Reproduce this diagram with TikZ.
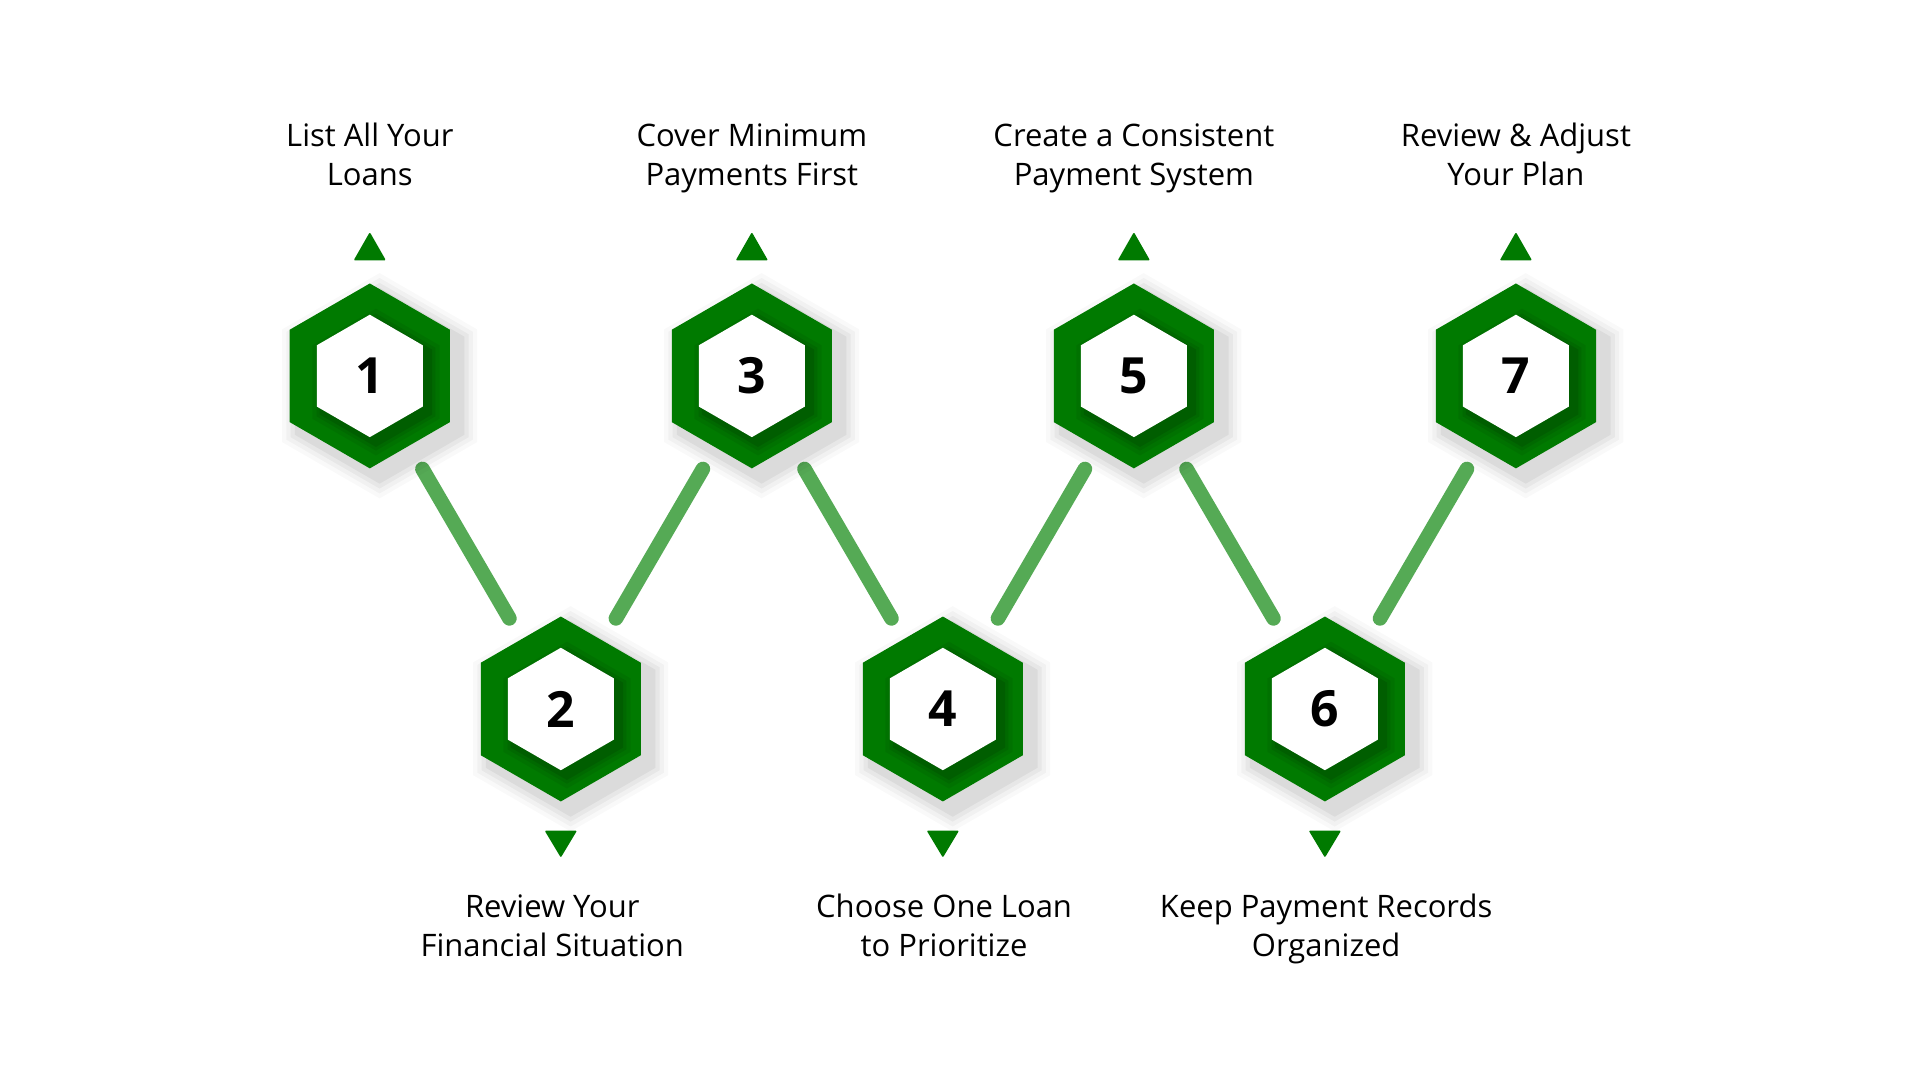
\documentclass[tikz,border=0pt]{standalone}
\usepackage{fontspec}
\setmainfont{Open Sans}
\usetikzlibrary{calc}
\definecolor{hexg}{HTML}{007A00}
\definecolor{lineg}{HTML}{55AA55}
\tikzset{
  lbl/.style={align=center,font=\fontsize{36}{45}\selectfont},
  num/.style={font=\fontsize{58}{60}\selectfont\bfseries},
  conn/.style={draw=lineg,line width=17pt,line cap=round},
  tri/.style={fill=hexg,draw=hexg,line width=2pt,line join=round}
}
\newcommand{\hexpath}[3]{($(#1,#2)+(90:#3)$) -- ($(#1,#2)+(150:#3)$) -- ($(#1,#2)+(210:#3)$) -- ($(#1,#2)+(270:#3)$) -- ($(#1,#2)+(330:#3)$) -- ($(#1,#2)+(30:#3)$) -- cycle}
\newcommand{\hexag}[3]{%
  \foreach \r/\o in {92/0.025,88/0.03,84/0.04,80/0.05} {\fill[black,opacity=\o] \hexpath{#1+8}{#2+8}{\r};}
  \fill[hexg] \hexpath{#1}{#2}{75.5};
  \foreach \r/\o in {60/0.06,56/0.08,53/0.1} {\fill[black,opacity=\o] \hexpath{#1+5}{#2+5}{\r};}
  \fill[white] \hexpath{#1}{#2}{50};
  \node[num] (h#3) at (#1,#2) {#3};}
\begin{document}
\begin{tikzpicture}[x=0.05cm,y=-0.05cm]
\useasboundingbox (0,0) rectangle (1568,882);
\fill[white] (0,0) rectangle (1568,882);
\coordinate (a1) at (345,383); \coordinate (b1) at (416,505);
\coordinate (a2) at (503,505); \coordinate (b2) at (574,383);
\coordinate (a3) at (657,383); \coordinate (b3) at (728,505);
\coordinate (a4) at (815,505); \coordinate (b4) at (886,383);
\coordinate (a5) at (969,383); \coordinate (b5) at (1040,505);
\coordinate (a6) at (1127,505); \coordinate (b6) at (1198,383);
\foreach \i in {1,...,6} {\draw[conn] (a\i) -- (b\i);}
\hexag{302}{307}{1}
\hexag{614}{307}{3}
\hexag{926}{307}{5}
\hexag{1238}{307}{7}
\hexag{458}{579}{2}
\hexag{770}{579}{4}
\hexag{1082}{579}{6}
\foreach \x in {302,614,926,1238} {\filldraw[tri] (\x,191) -- (\x-12,212) -- (\x+12,212) -- cycle;}
\foreach \x in {458,770,1082} {\filldraw[tri] (\x,699) -- (\x-12,679) -- (\x+12,679) -- cycle;}
\node[lbl] (t1) at (302,129) {\strut List All Your\\\strut Loans};
\node[lbl] (t3) at (614,129) {\strut Cover Minimum\\\strut Payments First};
\node[lbl] (t5) at (926,129) {\strut Create a Consistent\\\strut Payment System};
\node[lbl] (t7) at (1238,129) {\strut Review \& Adjust\\\strut Your Plan};
\node[lbl] (t2) at (451,759) {\strut Review Your\\\strut Financial Situation};
\node[lbl] (t4) at (771,759) {\strut Choose One Loan\\\strut to Prioritize};
\node[lbl] (t6) at (1083,759) {\strut Keep Payment Records\\\strut Organized};
\end{tikzpicture}
\end{document}
